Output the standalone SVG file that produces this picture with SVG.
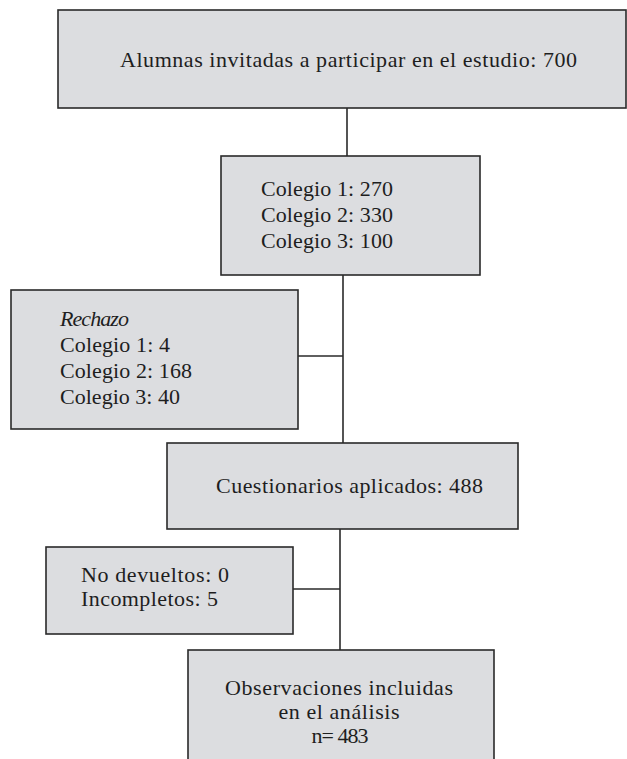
<svg xmlns="http://www.w3.org/2000/svg" width="627" height="759" viewBox="0 0 627 759">
<style>
.box{fill:#dcdde0;stroke:#2a2a2a;stroke-width:1.6}
.t{font-family:"Liberation Serif","Times New Roman",serif;font-size:22px;fill:#1e1e1e}
.c{stroke:#2a2a2a;stroke-width:1.6;fill:none}
</style>
<rect width="627" height="759" fill="#ffffff"/>
<g id="connectors">
<line class="c" x1="347" y1="108" x2="347" y2="156"/>
<line class="c" x1="343" y1="275" x2="343" y2="443"/>
<line class="c" x1="298" y1="356" x2="343" y2="356"/>
<line class="c" x1="340" y1="529" x2="340" y2="650"/>
<line class="c" x1="293" y1="589" x2="340" y2="589"/>
</g>
<g id="n1">
<rect class="box" x="58" y="10" width="568" height="98"/>
<text class="t" x="120" y="67" textLength="457">Alumnas invitadas a participar en el estudio: 700</text>
</g>
<g id="n2">
<rect class="box" x="221" y="156" width="259" height="119"/>
<text class="t" x="261" y="196" textLength="132">Colegio 1: 270</text>
<text class="t" x="261" y="222" textLength="132">Colegio 2: 330</text>
<text class="t" x="261" y="248" textLength="132">Colegio 3: 100</text>
</g>
<g id="n3">
<rect class="box" x="11" y="290" width="287" height="139"/>
<text class="t" x="60" y="326" font-style="italic" textLength="69">Rechazo</text>
<text class="t" x="60" y="352" textLength="110">Colegio 1: 4</text>
<text class="t" x="60" y="378" textLength="132">Colegio 2: 168</text>
<text class="t" x="60" y="404" textLength="120">Colegio 3: 40</text>
</g>
<g id="n4">
<rect class="box" x="167" y="443" width="351" height="86"/>
<text class="t" x="216" y="493" textLength="267">Cuestionarios aplicados: 488</text>
</g>
<g id="n5">
<rect class="box" x="46" y="547" width="247" height="87"/>
<text class="t" x="81" y="582" textLength="148">No devueltos: 0</text>
<text class="t" x="81" y="606" textLength="137">Incompletos: 5</text>
</g>
<g id="n6">
<rect class="box" x="188" y="650" width="306" height="120"/>
<text class="t" x="339" y="695" text-anchor="middle" textLength="228">Observaciones incluidas</text>
<text class="t" x="339" y="719" text-anchor="middle" textLength="121">en el análisis</text>
<text class="t" x="340" y="743" text-anchor="middle" textLength="57">n= 483</text>
</g>
</svg>
